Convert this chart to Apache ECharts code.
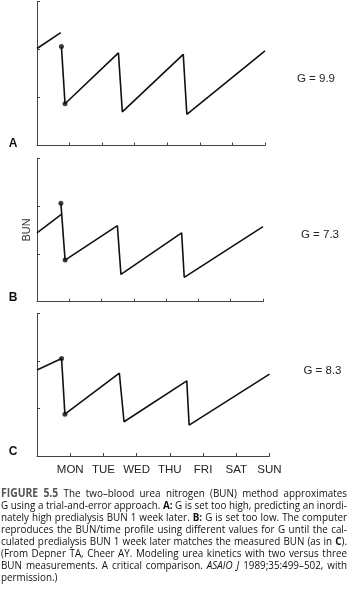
<!DOCTYPE html>
<html>
<head>
<meta charset="utf-8">
<script src="https://cdn.jsdelivr.net/npm/echarts@6/dist/echarts.min.js"></script>
<style>
html,body{margin:0;padding:0;background:#fff;}
#chart{width:350px;height:602px;}
</style>
</head>
<body>
<div id="chart"></div>
<script>
// ---- data ----
const days = ['MON', 'TUE', 'WED', 'THU', 'FRI', 'SAT', 'SUN'];
const yTicks = [0, 1, 2, 3];

// Panel A (G = 9.9)
const aModelStart = [[0, 2.02], [0.73, 2.35]];
const aMeasured = [[0.75, 2.06], [0.86, 0.87]];
const aCurve = [[2.50, 1.93], [2.62, 0.70], [4.49, 1.90], [4.60, 0.65], [7, 1.97]];
// Panel B (G = 7.3)
const bModelStart = [[0, 1.44], [0.765, 1.83]];
const bMeasured = [[0.74, 2.06], [0.87, 0.87]];
const bCurve = [[2.49, 1.59], [2.60, 0.57], [4.48, 1.44], [4.56, 0.51], [7, 1.57]];
// Panel C (G = 8.3)
const cModelStart = [[0, 1.81], [0.74, 2.05]];
const cMeasured = [[0.74, 2.05], [0.84, 0.88]];
const cCurve = [[2.48, 1.74], [2.62, 0.72], [4.51, 1.58], [4.58, 0.65], [7, 1.72]];

const panelLetters = ['A', 'B', 'C'];
const gLabels = ['G = 9.9', 'G = 7.3', 'G = 8.3'];
const yName = 'BUN';

const captionLines = [
  '{f|FIGURE 5.5} The two\u2013blood urea nitrogen (BUN) method approximates',
  'G using a trial-and-error approach. {b|A:} G is set too high, predicting an inordi-',
  'nately high predialysis BUN 1 week later. {b|B:} G is set too low. The computer',
  'reproduces the BUN/time profile using different values for G until the cal-',
  'culated predialysis BUN 1 week later matches the measured BUN (as in {b|C}).',
  '(From Depner TA, Cheer AY. Modeling urea kinetics with two versus three',
  'BUN measurements. A critical comparison. {i|ASAIO J} 1989;35:499\u2013502, with',
  'permission.)'
];

// ---- layout ----
const axisColor = '#444';
const lineColor = '#111';
const labelFont = '"Liberation Sans", Arial, sans-serif';
const grids = [
  {left: 37, top: 1.5, width: 228, height: 144},
  {left: 37, top: 158.3, width: 226, height: 143.4},
  {left: 37, top: 313.3, width: 232.5, height: 142.7}
];

function xAxisFor(i, showLabels) {
  return {
    gridIndex: i, type: 'value', min: 0, max: 7, interval: 1,
    axisLine: {show: true, lineStyle: {color: axisColor, width: 1}},
    axisTick: {show: true, inside: true, length: 3, lineStyle: {color: axisColor}},
    splitLine: {show: false},
    axisLabel: {
      show: showLabels, margin: 8, fontSize: 11.5, color: '#222', fontFamily: labelFont,
      formatter: v => (v >= 1 && v <= 7 ? days[v - 1] : '')
    }
  };
}
function yAxisFor(i, name) {
  return {
    gridIndex: i, type: 'value', min: yTicks[0], max: yTicks[yTicks.length - 1], interval: 1,
    name: name || '', nameLocation: 'middle', nameGap: 5,
    nameTextStyle: {fontSize: 11, color: '#333', fontFamily: labelFont},
    axisLine: {show: true, lineStyle: {color: axisColor, width: 1}},
    axisTick: {show: true, inside: true, length: 3, lineStyle: {color: axisColor}},
    splitLine: {show: false},
    axisLabel: {show: false}
  };
}
function lineSeries(i, data) {
  return {
    type: 'line', xAxisIndex: i, yAxisIndex: i, data: data,
    showSymbol: false, symbol: 'none', silent: true, clip: false,
    lineStyle: {color: lineColor, width: 1.6}
  };
}
function dotSeries(i, data) {
  return {
    type: 'scatter', xAxisIndex: i, yAxisIndex: i, data: data,
    symbol: 'circle', symbolSize: 5, silent: true,
    itemStyle: {color: lineColor}
  };
}

const panels = [
  [aModelStart, aMeasured, aCurve],
  [bModelStart, bMeasured, bCurve],
  [cModelStart, cMeasured, cCurve]
];
const series = [];
panels.forEach((p, i) => {
  series.push(lineSeries(i, p[0]));
  series.push(lineSeries(i, p[1].concat(p[2])));
  series.push(dotSeries(i, p[1]));
});

// ---- graphic texts ----
const graphic = [];
const letterPos = [[13, 143.3], [13, 297.5], [13, 452]];
panelLetters.forEach((t, i) => {
  graphic.push({type: 'text', x: letterPos[i][0], y: letterPos[i][1], silent: true,
    style: {text: t, fontSize: 12, fontWeight: 'bold', fontFamily: labelFont, fill: '#111',
      align: 'center', verticalAlign: 'middle'}});
});
const gPos = [[316, 79], [320, 235], [322.5, 371]];
gLabels.forEach((t, i) => {
  graphic.push({type: 'text', x: gPos[i][0], y: gPos[i][1], silent: true,
    style: {text: t, fontSize: 11.5, fontFamily: labelFont, fill: '#222',
      align: 'center', verticalAlign: 'middle'}});
});

// caption, justified
const capFamily = '"Open Sans", "Noto Sans", sans-serif';
const capStyles = {
  n: {fontStyle: 'normal', fontWeight: 'normal', fontSize: 11.4, fill: '#111'},
  b: {fontStyle: 'normal', fontWeight: 'bold', fontSize: 11.4, fill: '#111'},
  i: {fontStyle: 'italic', fontWeight: 'normal', fontSize: 11.4, fill: '#111'},
  f: {fontStyle: 'normal', fontWeight: 'bold', fontSize: 12, fill: '#555'}
};
const ctx = document.createElement('canvas').getContext('2d');
function fontStr(s) { return s.fontStyle + ' ' + s.fontWeight + ' ' + s.fontSize + 'px ' + capFamily; }
function measure(t, key) { ctx.font = fontStr(capStyles[key]); return ctx.measureText(t).width; }
function parseLine(line) {
  const segs = [];
  const re = /\{(\w)\|([^}]*)\}|([^{]+)/g;
  let m;
  while ((m = re.exec(line))) {
    if (m[1]) segs.push([m[2], m[1]]); else segs.push([m[3], 'n']);
  }
  const words = [[]];
  segs.forEach(([t, s]) => {
    t.split(' ').forEach((p, k) => {
      if (k > 0) words.push([]);
      if (p) words[words.length - 1].push([p, s]);
    });
  });
  return words.filter(w => w.length);
}
const capLeft = 1, capWidth = 346, capTop = 494, capStep = 12;
const parsed = captionLines.map(parseLine);
const wordWidths = parsed.map(ws => ws.map(w => w.reduce((a, [t, s]) => a + measure(t, s), 0)));
const minGap = 2.6;
let scale = 1;
parsed.forEach((ws, li) => {
  if (li === parsed.length - 1) return;
  const sum = wordWidths[li].reduce((a, b) => a + b, 0);
  scale = Math.min(scale, (capWidth - (ws.length - 1) * minGap) / sum);
});
const spaceW = measure(' ', 'n') * scale;
parsed.forEach((ws, li) => {
  const sum = wordWidths[li].reduce((a, b) => a + b, 0) * scale;
  const last = li === parsed.length - 1;
  const gap = last ? spaceW : (capWidth - sum) / (ws.length - 1);
  let x = capLeft;
  const y = capTop + li * capStep;
  ws.forEach((w, wi) => {
    w.forEach(([t, s]) => {
      const st = capStyles[s];
      graphic.push({type: 'text', x: x, y: y, scaleX: scale, silent: true,
        style: {text: t, fontSize: st.fontSize, fontWeight: st.fontWeight, fontStyle: st.fontStyle,
          fontFamily: capFamily, fill: st.fill, align: 'left', verticalAlign: 'middle'}});
      x += measure(t, s) * scale;
    });
    x += gap;
  });
});

const chart = echarts.init(document.getElementById('chart'), null, {renderer: 'canvas'});
chart.setOption({
  animation: false,
  backgroundColor: '#fff',
  grid: grids,
  xAxis: [xAxisFor(0, false), xAxisFor(1, false), xAxisFor(2, true)],
  yAxis: [yAxisFor(0), yAxisFor(1, yName), yAxisFor(2)],
  series: series,
  graphic: graphic
});
</script>
</body>
</html>
